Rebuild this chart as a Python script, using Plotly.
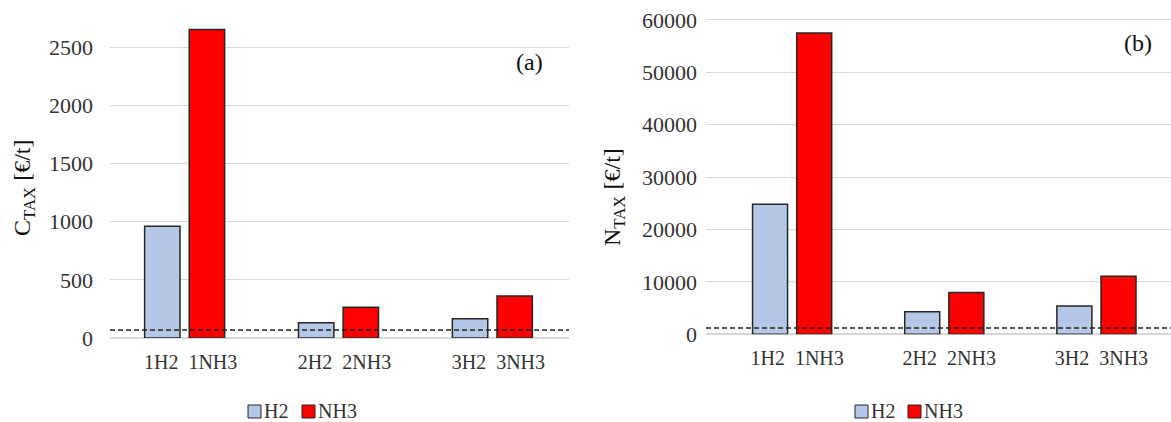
import plotly.graph_objects as go

# Scenario groups and per-bar category labels
groups = [1, 2, 3]
labels_h2 = ["1H2", "2H2", "3H2"]
labels_nh3 = ["1NH3", "2NH3", "3NH3"]
series_names = ["H2", "NH3"]

# (a) carbon tax [€/t]
c_tax_h2 = [960, 130, 165]
c_tax_nh3 = [2650, 265, 360]
c_tax_ref = 68

# (b) nitrogen tax [€/t]
n_tax_h2 = [24800, 4300, 5400]
n_tax_nh3 = [57500, 8000, 11100]
n_tax_ref = 1200

C_H2 = "#b4c7e7"
C_NH3 = "#ff0000"
EDGE = "#262626"
GRID = "#d9d9d9"
TXT = "#333"
FONT = "Liberation Serif"

W, H = 1171, 422
MT, MB = 0, 84
PH = H - MT - MB

OFF = 0.145
BW = 0.23

fig = go.Figure()

def add_pair(h2, nh3, xa, ya):
    fig.add_trace(go.Bar(
        x=[g - OFF for g in groups], y=h2, width=BW, name=series_names[0],
        marker=dict(color=C_H2, line=dict(color=EDGE, width=1.5)),
        xaxis=xa, yaxis=ya, showlegend=False))
    fig.add_trace(go.Bar(
        x=[g + OFF for g in groups], y=nh3, width=BW, name=series_names[1],
        marker=dict(color=C_NH3, line=dict(color=EDGE, width=1.5)),
        xaxis=xa, yaxis=ya, showlegend=False))

add_pair(c_tax_h2, c_tax_nh3, "x", "y")
add_pair(n_tax_h2, n_tax_nh3, "x2", "y2")

# One label per group, naming both bars of the pair
ticktext = [f"{a}\u2002{b}" for a, b in zip(labels_h2, labels_nh3)]

xcommon = dict(tickmode="array", tickvals=groups, ticktext=ticktext, tickangle=0,
               showgrid=False, showline=False, zeroline=False, ticks="",
               ticklabelstandoff=10, tickfont=dict(family=FONT, size=20, color=TXT))
ycommon = dict(showgrid=True, gridcolor=GRID, gridwidth=1, zeroline=True,
               zerolinecolor=GRID, zerolinewidth=1.5, showline=False, ticks="",
               tickformat="d", tickfont=dict(family=FONT, size=22, color=TXT))

fig.update_layout(
    width=W, height=H,
    margin=dict(l=0, r=0, t=MT, b=MB, autoexpand=False),
    paper_bgcolor="white", plot_bgcolor="white",
    barmode="overlay", showlegend=False,
    xaxis=dict(domain=[110 / W, 569 / W], range=[0.515, 3.498], anchor="y",
               ticklabelshift=6, **xcommon),
    yaxis=dict(domain=[0, 1], range=[0, 2904], dtick=500, anchor="x",
               ticklabelstandoff=16, **ycommon),
    xaxis2=dict(domain=[706 / W, 1.0], range=[0.434, 3.49], anchor="y2",
                ticklabelshift=5, **xcommon),
    yaxis2=dict(domain=[(PH - 334.3) / PH, 1], range=[0, 63800], dtick=10000,
                anchor="x2", ticklabelstandoff=8, **ycommon),
)

# Dashed reference levels drawn over the bars
for ref, xr, yr in [(c_tax_ref, "x domain", "y"), (n_tax_ref, "x2 domain", "y2")]:
    fig.add_shape(type="line", xref=xr, yref=yr, x0=0, x1=1, y0=ref, y1=ref,
                  line=dict(color="#222", width=1.5, dash="5px,3px"), layer="above")

# Compact legends beneath each panel: swatch followed directly by the name
def py(px_from_top):
    return 1 - px_from_top / PH

LEG_Y = 411
for starts in ([248, 302], [855, 908]):
    for x0, name, col in zip(starts, series_names, [C_H2, C_NH3]):
        fig.add_shape(type="rect", xref="paper", yref="paper",
                      x0=x0 / W, x1=(x0 + 13) / W, y0=py(LEG_Y + 7), y1=py(LEG_Y - 6),
                      fillcolor=col, line=dict(color=EDGE, width=1))
        fig.add_annotation(text=name, xref="paper", yref="paper",
                           x=(x0 + 15) / W, y=py(LEG_Y), xanchor="left", yanchor="middle",
                           showarrow=False, borderpad=0,
                           font=dict(family=FONT, size=20, color=TXT))

# Axis titles and panel tags
fig.add_annotation(text="C<sub>TAX</sub> [€/t]", textangle=-90, xref="paper", yref="paper",
                   x=24 / W, y=py(188), xanchor="center", yanchor="middle", showarrow=False,
                   font=dict(family=FONT, size=24, color="#111"))
fig.add_annotation(text="N<sub>TAX</sub> [€/t]", textangle=-90, xref="paper", yref="paper",
                   x=614 / W, y=py(197), xanchor="center", yanchor="middle", showarrow=False,
                   font=dict(family=FONT, size=24, color="#111"))
fig.add_annotation(text="(a)", xref="paper", yref="paper", x=529 / W, y=py(62),
                   xanchor="center", yanchor="middle", showarrow=False,
                   font=dict(family=FONT, size=24, color="#111"))
fig.add_annotation(text="(b)", xref="paper", yref="paper", x=1138 / W, y=py(43),
                   xanchor="center", yanchor="middle", showarrow=False,
                   font=dict(family=FONT, size=24, color="#111"))

fig.write_html("out.html")
